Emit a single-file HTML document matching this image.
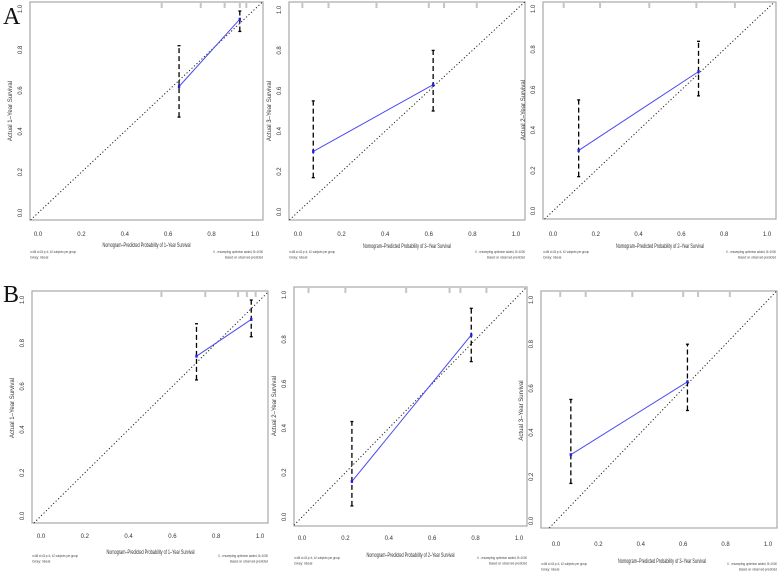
<!DOCTYPE html>
<html><head><meta charset="utf-8"><style>
html,body{margin:0;padding:0;background:#fff;width:778px;height:575px;overflow:hidden}
svg{display:block}
text{font-family:"Liberation Sans",sans-serif}
</style></head><body>
<svg id="fig" width="778" height="575" viewBox="0 0 778 575" xmlns="http://www.w3.org/2000/svg">
<text x="3" y="24" font-size="24" fill="#111" style="font-family:'Liberation Serif',serif">A</text>
<text x="3" y="302" font-size="24" fill="#111" style="font-family:'Liberation Serif',serif">B</text>
</svg>
<script>
// data per panel: A1, A2, A3, B1, B2, B3
const years = [1, 3, 2, 1, 2, 3];
const predicted = [[0.65, 0.93], [0.07, 0.62], [0.12, 0.68], [0.71, 0.96], [0.23, 0.78], [0.07, 0.62]];
const observed = [[0.62, 0.95], [0.30, 0.63], [0.30, 0.69], [0.74, 0.91], [0.16, 0.82], [0.30, 0.63]];
const lower = [[0.47, 0.89], [0.17, 0.50], [0.17, 0.57], [0.63, 0.83], [0.05, 0.70], [0.17, 0.50]];
const upper = [[0.82, 0.99], [0.55, 0.80], [0.55, 0.84], [0.89, 1.00], [0.43, 0.94], [0.55, 0.80]];
const rug = [[0.57, 0.75, 0.86, 0.93, 0.96], [0.02, 0.14, 0.36, 0.60, 0.67, 0.82], [0.05, 0.22, 0.45, 0.67, 0.85], [0.55, 0.75, 0.90, 0.94, 0.98], [0.03, 0.20, 0.48, 0.68, 0.73, 0.85], [0.02, 0.14, 0.36, 0.60, 0.67, 0.82]];
const ticks = [0, 0.2, 0.4, 0.6, 0.8, 1.0];
const tickLabels = ["0.0", "0.2", "0.4", "0.6", "0.8", "1.0"];

// layout (pixel geometry, not data)
const layout = [
 {fl:30,fr:263,ft:2,fb:220,x0:38,x1:255,y0:213,y1:9,tl:236,tt:247,fn:253},
 {fl:289,fr:525,ft:2,fb:220,x0:298,x1:516,y0:212,y1:10,tl:236,tt:248,fn:253},
 {fl:543,fr:776,ft:2,fb:219,x0:553,x1:767,y0:211,y1:9,tl:236,tt:248,fn:253},
 {fl:32,fr:268,ft:291,fb:523,x0:41,x1:260,y0:516,y1:300,tl:538,tt:554,fn:557},
 {fl:294,fr:527,ft:287,fb:526,x0:302,x1:519,y0:517,y1:295,tl:540,tt:557,fn:559},
 {fl:541,fr:777,ft:291,fb:528,x0:556,x1:768,y0:521,y1:300,tl:546,tt:563,fn:565}
];
const NS = "http://www.w3.org/2000/svg";
const svg = document.getElementById('fig');
function mk(tag, attrs, parent){const e=document.createElementNS(NS,tag);for(const k in attrs)e.setAttribute(k,attrs[k]);(parent||svg).appendChild(e);return e;}

layout.forEach((L, p) => {
 const g = mk('g', {});
 
 
 const sx = v => L.x0 + v * (L.x1 - L.x0);
 const sy = v => L.y0 + v * (L.y1 - L.y0);
 const frame = mk('rect', {x:L.fl, y:L.ft, width:L.fr-L.fl, height:L.fb-L.ft, fill:'none', stroke:'#a8a8a8', 'stroke-width':1.2}, g);
 
 
 const dmin = Math.max((L.fl - L.x0)/(L.x1-L.x0), (L.fb - L.y0)/(L.y1-L.y0));
 const dmax = Math.min((L.fr - L.x0)/(L.x1-L.x0), (L.ft - L.y0)/(L.y1-L.y0));
 const diag = mk('line', {x1:sx(dmin), y1:sy(dmin), x2:sx(dmax), y2:sy(dmax), stroke:'#222', 'stroke-width':1, 'stroke-dasharray':'1.2 2.2'}, g);
 
 
 ticks.forEach((t, i) => {
  const xt = mk('text', {x:sx(t), y:L.tl, 'font-size':6, fill:'#333', 'text-anchor':'middle'}, g);
  xt.textContent = tickLabels[i];
  
  
  const yx = L.fl - 8;
  const yt = mk('text', {x:yx, y:sy(t), 'font-size':6, fill:'#333', 'text-anchor':'middle', transform:`rotate(-90 ${yx} ${sy(t)})`}, g);
  yt.textContent = tickLabels[i];
  
  
 });
 rug[p].forEach(r => {
  const rl = mk('line', {x1:sx(r), y1:L.ft+1, x2:sx(r), y2:L.ft+6, stroke:'#c4c4c4', 'stroke-width':2}, g);
  
  
 });
 const xtitle = mk('text', {x:(L.x0+L.x1)/2, y:L.tt, 'font-size':6.5, fill:'#333', 'text-anchor':'middle', textLength:88, lengthAdjust:'spacingAndGlyphs'}, g);
 xtitle.textContent = 'Nomogram\u2013Predicted Probability of ' + years[p] + '\u2013Year Survival';
 
 
 const yxp = L.fl - 18, yyp = (L.y0+L.y1)/2;
 const ytitle = mk('text', {x:yxp, y:yyp, 'font-size':6, fill:'#333', 'text-anchor':'middle', transform:`rotate(-90 ${yxp} ${yyp})`}, g);
 ytitle.textContent = 'Actual ' + years[p] + '\u2013Year Survival';
 
 
 const f1 = mk('text', {x:L.fl, y:L.fn, 'font-size':3.8, fill:'#444', textLength:46, lengthAdjust:'spacingAndGlyphs'}, g);
 f1.textContent = 'n=88 d=43 p=4, 42 subjects per group';
 
 
 const f2 = mk('text', {x:L.fl, y:L.fn+5.5, 'font-size':3.8, fill:'#444'}, g);
 f2.textContent = 'Gray: ideal';
 
 
 const f3 = mk('text', {x:L.fr, y:L.fn, 'font-size':3.8, fill:'#444', 'text-anchor':'end', textLength:50, lengthAdjust:'spacingAndGlyphs'}, g);
 f3.textContent = 'X - resampling optimism added, B=1000';
 
 
 const f4 = mk('text', {x:L.fr, y:L.fn+5.5, 'font-size':3.8, fill:'#444', 'text-anchor':'end', textLength:38, lengthAdjust:'spacingAndGlyphs'}, g);
 f4.textContent = 'Based on observed-predicted';
 
 
 predicted[p].forEach((px, i) => {
  const eb = mk('line', {x1:sx(px), y1:sy(lower[p][i]), x2:sx(px), y2:sy(upper[p][i]), stroke:'#000', 'stroke-width':1.3, 'stroke-dasharray':'5 3'}, g);
  
  
  mk('line', {x1:sx(px)-1.5, y1:sy(upper[p][i]), x2:sx(px)+1.5, y2:sy(upper[p][i]), stroke:'#000', 'stroke-width':1.3}, g);
  mk('line', {x1:sx(px)-1.5, y1:sy(lower[p][i]), x2:sx(px)+1.5, y2:sy(lower[p][i]), stroke:'#000', 'stroke-width':1.3}, g);
 });
 const pts = predicted[p].map((px, i) => sx(px) + ',' + sy(observed[p][i])).join(' ');
 const cl = mk('polyline', {points:pts, fill:'none', stroke:'#4a4af0', 'stroke-width':1}, g);
 
 
 predicted[p].forEach((px, i) => {
  const c = mk('rect', {x:sx(px)-1.2, y:sy(observed[p][i])-1.5, width:2.4, height:3, fill:'#2222ee'}, g);
  
  
 });
});
</script>
</body></html>
